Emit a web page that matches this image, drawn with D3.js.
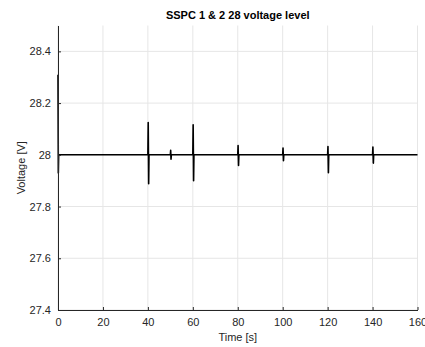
<!DOCTYPE html>
<html><head><meta charset="utf-8">
<script src="https://d3js.org/d3.v7.min.js"></script>
<style>body{margin:0;background:#fff}svg{display:block}text{font-family:"Liberation Sans",Arial,sans-serif}</style>
</head><body><svg id="c" width="425" height="347"></svg>
<script>
const title = "SSPC 1 & 2 28 voltage level";
const xLabel = "Time [s]";
const yLabel = "Voltage [V]";
const xTicks = [0, 20, 40, 60, 80, 100, 120, 140, 160];
const yTicks = [27.4, 27.6, 27.8, 28, 28.2, 28.4];
const xDomain = [0, 160];
const yDomain = [27.4, 28.5];
const time =    [0,     0.15,  0.3, 40,  40.15,  40.35,  40.5, 50,  50.15,  50.3,   50.45, 60,  60.15,  60.35, 60.5, 80,  80.15,  80.35,  80.5,  100, 100.15, 100.35, 100.5, 120, 120.15, 120.35, 120.5, 140, 140.15, 140.35, 140.5, 160];
const voltage = [28.31, 27.93, 28,  28,  28.125, 27.888, 28,   28,  28.017, 27.983, 28,    28,  28.116, 27.90, 28,   28,  28.036, 27.959, 28,    28,  28.026, 27.977, 28,    28,  28.032, 27.931, 28,    28,  28.03,  27.968, 28,    28];

const svg = d3.select("#c");
const m = {l: 58, r: 425 - 417.5, t: 25.5, b: 347 - 310};
const W = 425, H = 347;
const x = d3.scaleLinear().domain(xDomain).range([m.l, W - m.r]);
const y = d3.scaleLinear().domain(yDomain).range([H - m.b, m.t]);
const axisCol = "#262626";

// grid
const g = svg.append("g");
g.selectAll("line.gx").data(xTicks).join("line")
  .attr("x1", d => x(d)).attr("x2", d => x(d)).attr("y1", y(yDomain[0])).attr("y2", y(yDomain[1]))
  .attr("stroke", "#e6e6e6").attr("stroke-width", 1);
g.selectAll("line.gy").data(yTicks).join("line")
  .attr("y1", d => y(d)).attr("y2", d => y(d)).attr("x1", x(xDomain[0])).attr("x2", x(xDomain[1]))
  .attr("stroke", "#e6e6e6").attr("stroke-width", 1);

// data line
const pts = time.map((t, i) => [t, voltage[i]]);
svg.append("path").datum(pts)
  .attr("d", d3.line().x(d => x(d[0])).y(d => y(d[1])))
  .attr("fill", "none").attr("stroke", "#000").attr("stroke-width", 1.6).attr("stroke-linejoin", "round");

// axes
const xa = svg.append("g").attr("transform", `translate(0,${y(yDomain[0])})`)
  .call(d3.axisBottom(x).tickValues(xTicks).tickSizeInner(-3).tickSizeOuter(0).tickPadding(8).tickFormat(d3.format("d")));
const ya = svg.append("g").attr("transform", `translate(${x(xDomain[0])},0)`)
  .call(d3.axisLeft(y).tickValues(yTicks).tickSizeInner(-3).tickSizeOuter(0).tickPadding(7).tickFormat(d => d3.format("")(+d.toFixed(1))));
[xa, ya].forEach(a => {
  a.select(".domain").attr("stroke", axisCol).attr("stroke-width", 1);
  a.selectAll(".tick line").attr("stroke", axisCol);
  a.selectAll("text").attr("fill", axisCol).style("font-size", "11px");
});
xa.selectAll("text").attr("dy", "0.71em");

svg.append("text").attr("x", (x(0) + x(160)) / 2).attr("y", 341).attr("text-anchor", "middle")
  .attr("fill", axisCol).style("font-size", "11px").text(xLabel);
svg.append("text").attr("transform", `translate(25,${(y(yDomain[0]) + y(yDomain[1])) / 2}) rotate(-90)`)
  .attr("text-anchor", "middle").attr("fill", axisCol).style("font-size", "11px").text(yLabel);
svg.append("text").attr("x", (x(0) + x(160)) / 2).attr("y", 19).attr("text-anchor", "middle")
  .attr("fill", "#000").style("font-size", "11px").style("font-weight", "bold").text(title);
</script></body></html>
